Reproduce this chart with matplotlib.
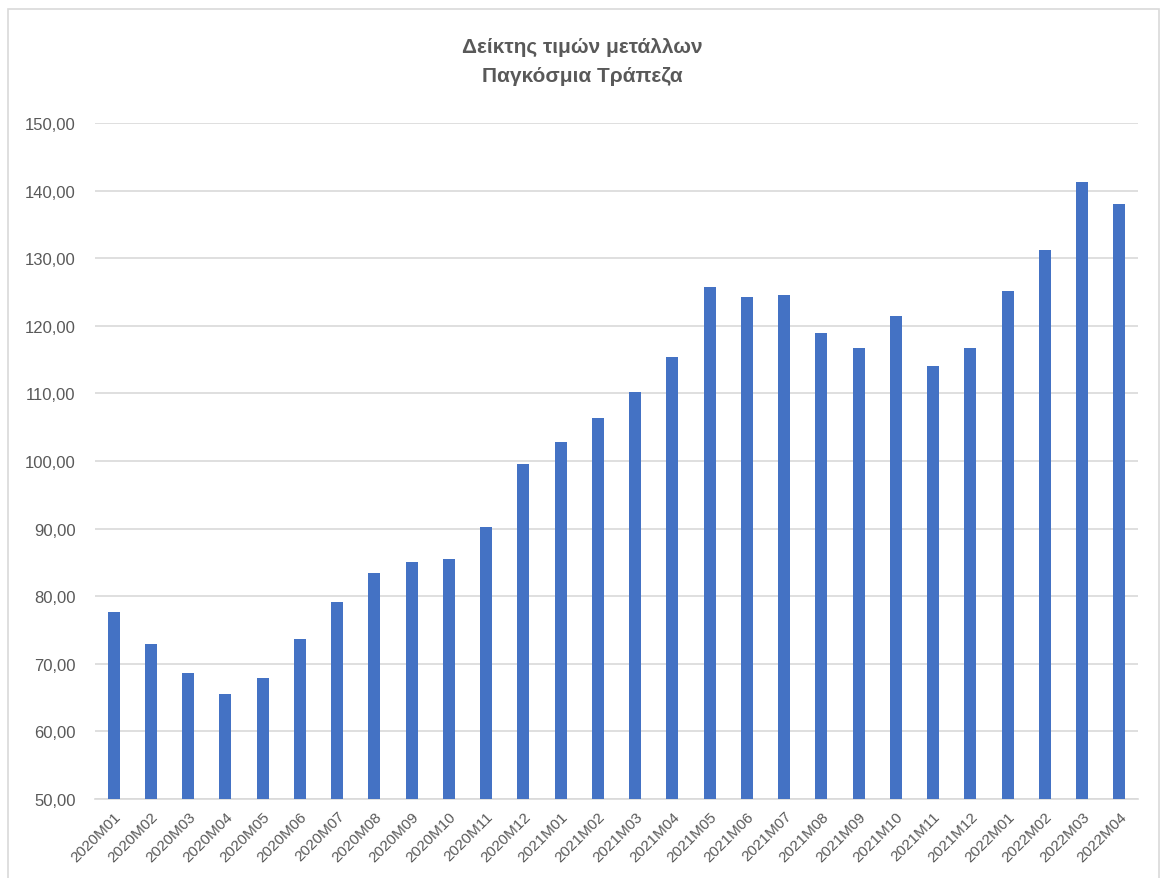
import matplotlib
matplotlib.use("Agg")
import matplotlib.pyplot as plt
from matplotlib.patches import Rectangle
from matplotlib.ticker import FuncFormatter

# data
months = ["2020M01", "2020M02", "2020M03", "2020M04", "2020M05", "2020M06",
          "2020M07", "2020M08", "2020M09", "2020M10", "2020M11", "2020M12",
          "2021M01", "2021M02", "2021M03", "2021M04", "2021M05", "2021M06",
          "2021M07", "2021M08", "2021M09", "2021M10", "2021M11", "2021M12",
          "2022M01", "2022M02", "2022M03", "2022M04"]
index_values = [77.66, 72.90, 68.67, 65.56, 67.93, 73.60,
                79.10, 83.50, 85.10, 85.45, 90.30, 99.60,
                102.86, 106.37, 110.25, 115.40, 125.76, 124.24,
                124.50, 119.00, 116.70, 121.40, 114.00, 116.65,
                125.20, 131.15, 141.20, 138.05]
title_lines = ["Δείκτης τιμών μετάλλων", "Παγκόσμια Τράπεζα"]
y_ticks = [50, 60, 70, 80, 90, 100, 110, 120, 130, 140, 150]

plt.rcParams['font.family'] = ['Liberation Sans', 'DejaVu Sans']
txt_color = '#595959'
grid_color = '#D9D9D9'

fig = plt.figure(figsize=(11.64, 8.79), dpi=100)
ax = fig.add_axes([95/1164, 1 - 800/879, (1138-95)/1164, (800-124)/879])

x = list(range(len(months)))
ax.bar(x, index_values, width=0.32, color='#4472C4', zorder=3)

ax.set_ylim(50, 150)
ax.set_xlim(-0.5, len(months) - 0.5)
ax.set_yticks(y_ticks)
ax.yaxis.set_major_formatter(FuncFormatter(lambda v, p: f"{v:.2f}".replace('.', ',')))
ax.set_xticks(x)
ax.set_xticklabels(months, rotation=45, ha='right', rotation_mode='anchor')

ax.grid(axis='y', color=grid_color, linewidth=1.2, zorder=0)
for s in ['top', 'right', 'left']:
    ax.spines[s].set_visible(False)
ax.spines['bottom'].set_color(grid_color)
ax.spines['bottom'].set_linewidth(1.2)
ax.tick_params(axis='both', length=0, colors=txt_color)
ax.tick_params(axis='y', pad=14, labelsize=12)
ax.tick_params(axis='x', pad=7, labelsize=11)

fig.text(0.5, 1 - 47/879, title_lines[0], ha='center', va='center',
         fontsize=15, fontweight='bold', color=txt_color)
fig.text(0.5, 1 - 77/879, title_lines[1], ha='center', va='center',
         fontsize=15, fontweight='bold', color=txt_color)

# chart border
fig.patches.append(Rectangle((8/1164, -0.01), (1159-8)/1164, 1.01 - 10/879,
                             transform=fig.transFigure, fill=False,
                             edgecolor='#D9D9D9', linewidth=1.2))

fig.savefig('out.png', dpi=100)
